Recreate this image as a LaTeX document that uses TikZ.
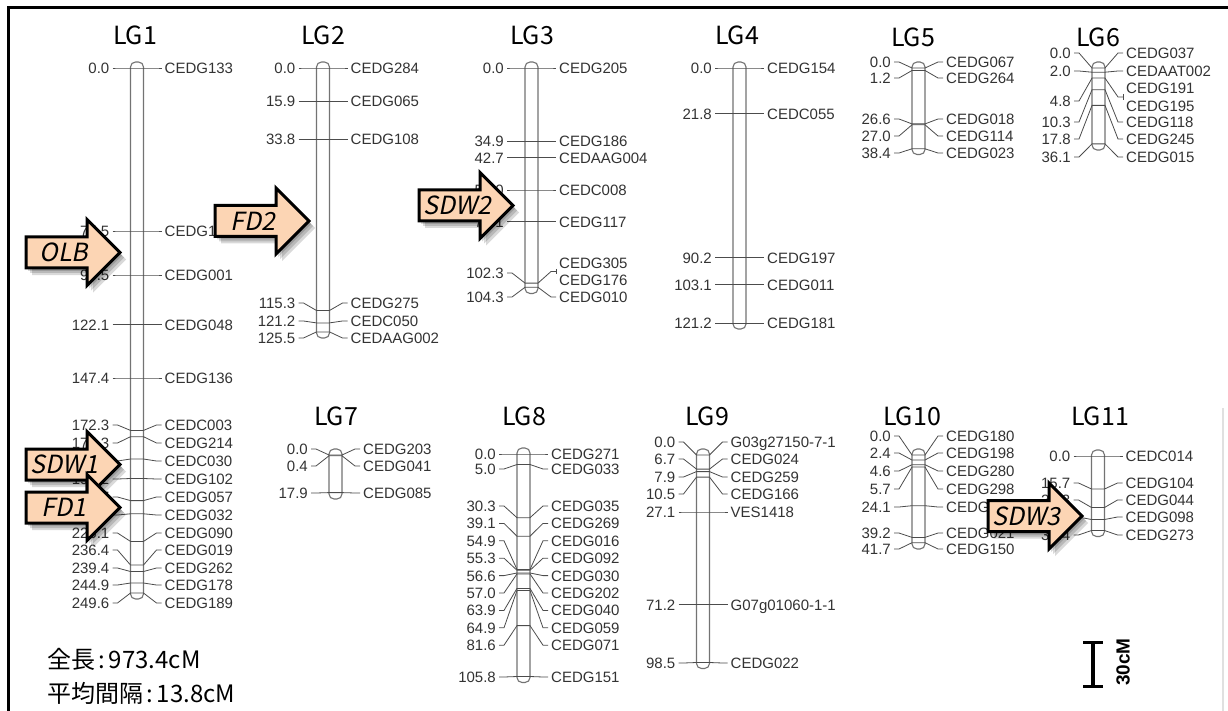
\documentclass[tikz,border=0pt]{standalone}
\usepackage{fontspec}
\setmainfont{Liberation Sans}
\newfontfamily\jp{Noto Sans CJK JP}
\newfontfamily\jpit[FakeSlant=0.2]{Noto Sans CJK JP}
\definecolor{peach}{HTML}{FCD5B4}
\definecolor{txtc}{gray}{0.2}
\definecolor{lnc}{gray}{0.3}
\definecolor{barc}{gray}{0.45}
\tikzset{
 barbox/.style={draw=barc, line width=1.1pt, fill=white, rounded corners=5pt},
 conn/.style={draw=lnc, line width=0.8pt},
 lbl/.style={inner sep=0pt, text=txtc, text height=10.8pt, text depth=0pt, font=\fontsize{15}{15}\selectfont},
 ttl/.style={inner sep=0pt, text height=18.3pt, text depth=0pt, font=\jp\fontsize{25}{25}\selectfont},
 arrtxt/.style={inner sep=0pt, text height=18.3pt, text depth=0pt, font=\jpit\fontsize{25}{25}\selectfont},
 arrbody/.style={draw=black, line width=3pt, fill=peach, line join=miter},
 arrshadow/.style={fill=black, opacity=0.15},
 note/.style={inner sep=0pt, anchor=west, font=\jp\fontsize{24}{24}\selectfont},
}
\newcommand\mk[7]{%
 \node[lbl,anchor=east] (#1l) at (#2-27.5,#4) {#6};
 \node[lbl,anchor=west] (#1r) at (#2+27.5,#5) {#7};
 \draw[conn] ([xshift=3pt]#1l.east) -- ++(5pt,0) -- (#2-6.5,#3) -- (#2+6.5,#3) -- ([xshift=-8pt]#1r.west) -- ([xshift=-3pt]#1r.west);
}
\newcommand\chr[3]{\draw[barbox] (#1-6.5,#2) rectangle (#1+6.5,#3);}
\newcommand\arrowshape[3]{(#1,#2-15.5+#3) -- (#1+61,#2-15.5+#3) -- (#1+61,#2-33+#3) -- (#1+94,#2+#3) -- (#1+61,#2+33+#3) -- (#1+61,#2+15.5+#3) -- (#1,#2+15.5+#3) -- cycle}
\newcommand\barrow[4]{%
 \fill[arrshadow] \arrowshape{#2+2}{#3}{3};
 \fill[arrshadow] \arrowshape{#2+4}{#3}{5};
 \fill[arrshadow] \arrowshape{#2+6}{#3}{7};
 \draw[arrbody] \arrowshape{#2}{#3}{0};
 \node[arrtxt] (#1) at (#2+38,#3) {#4};
}
\begin{document}
\begin{tikzpicture}[x=1pt,y=-1pt]
\useasboundingbox (0,0) rectangle (1228,711);
\fill[white] (0,0) rectangle (1228,711);
\draw[line width=2.5pt] (8.5,711) -- (8.5,7.5) -- (1228,7.5);
\draw[black!12, line width=1.5pt] (1223,408) -- (1223,711);
% titles
\node[ttl] (t1) at (135,35) {LG1};
\node[ttl] (t2) at (323,35) {LG2};
\node[ttl] (t3) at (532,35) {LG3};
\node[ttl] (t4) at (737,35) {LG4};
\node[ttl] (t5) at (913,37) {LG5};
\node[ttl] (t6) at (1098,37) {LG6};
\node[ttl] (t7) at (336,416) {LG7};
\node[ttl] (t8) at (524,416) {LG8};
\node[ttl] (t9) at (707,416) {LG9};
\node[ttl] (t10) at (912,416) {LG10};
\node[ttl] (t11) at (1100,416) {LG11};
% LG1
\chr{137}{62}{599}
\mk{a1}{137}{68}{68}{68}{0.0}{CEDG133}
\mk{a2}{137}{231}{231}{231}{77.5}{CEDG1}
\mk{a3}{137}{275}{275}{275}{98.5}{CEDG001}
\mk{a4}{137}{324.8}{324.8}{324.8}{122.1}{CEDG048}
\mk{a5}{137}{378}{378}{378}{147.4}{CEDG136}
\mk{a6}{137}{430.4}{425}{425}{172.3}{CEDC003}
\mk{a7}{137}{436.7}{443}{443}{175.3}{CEDG214}
\mk{a8}{137}{459}{461}{461}{186.0}{CEDC030}
\mk{a9}{137}{478.5}{479}{479}{195.2}{CEDG102}
\mk{a10}{137}{500.6}{497}{497}{205.7}{CEDG057}
\mk{a11}{137}{513.8}{515}{515}{212.0}{CEDG032}
\mk{a12}{137}{541.4}{533}{533}{225.1}{CEDG090}
\mk{a13}{137}{565}{550}{550}{236.4}{CEDG019}
\mk{a14}{137}{571.5}{568}{568}{239.4}{CEDG262}
\mk{a15}{137}{583}{585}{585}{244.9}{CEDG178}
\mk{a16}{137}{593}{603}{603}{249.6}{CEDG189}
% LG2
\chr{323}{62}{338}
\mk{b1}{323}{68}{68}{68}{0.0}{CEDG284}
\mk{b2}{323}{101.4}{101.4}{101.4}{15.9}{CEDG065}
\mk{b3}{323}{139.1}{139.1}{139.1}{33.8}{CEDG108}
\mk{b4}{323}{310.5}{303}{303}{115.3}{CEDG275}
\mk{b5}{323}{322.9}{321}{321}{121.2}{CEDC050}
\mk{b6}{323}{331.9}{338}{338}{125.5}{CEDAAG002}
% LG3
\chr{531.5}{62}{293.5}
\mk{c1}{531.5}{68}{68}{68}{0.0}{CEDG205}
\mk{c2}{531.5}{141.4}{141.4}{141.4}{34.9}{CEDG186}
\mk{c3}{531.5}{157.8}{157.8}{157.8}{42.7}{CEDAAG004}
\mk{c4}{531.5}{190}{190}{190}{58.0}{CEDC008}
\mk{c5}{531.5}{221.7}{221.7}{221.7}{73.1}{CEDG117}
\mk{c6}{531.5}{283.1}{273}{271.5}{102.3}{}
\mk{c7}{531.5}{287.3}{297}{297}{104.3}{CEDG010}
\node[lbl,anchor=west] (c6a) at (559,263) {CEDG305};
\node[lbl,anchor=west] (c6b) at (559,280) {CEDG176};
\draw[conn] ([xshift=-3pt,yshift=-6pt]c6a.west) -- ([xshift=-3pt,yshift=6pt]c6b.west);
% LG4
\chr{739.5}{62}{329}
\mk{d1}{739.5}{68}{68}{68}{0.0}{CEDG154}
\mk{d2}{739.5}{113.8}{113.8}{113.8}{21.8}{CEDC055}
\mk{d3}{739.5}{257.7}{257.7}{257.7}{90.2}{CEDG197}
\mk{d4}{739.5}{284.8}{284.8}{284.8}{103.1}{CEDG011}
\mk{d5}{739.5}{322.9}{322.9}{322.9}{121.2}{CEDG181}
% LG5
\chr{918.5}{62}{154.5}
\mk{e1}{918.5}{68}{62}{62}{0.0}{CEDG067}
\mk{e2}{918.5}{70.5}{78}{78}{1.2}{CEDG264}
\mk{e3}{918.5}{123.9}{119}{119}{26.6}{CEDG018}
\mk{e4}{918.5}{124.8}{136}{136}{27.0}{CEDG114}
\mk{e5}{918.5}{148.8}{153}{153}{38.4}{CEDG023}
% LG6
\chr{1098.5}{62}{150}
\mk{f1}{1098.5}{68}{53}{53}{0.0}{CEDG037}
\mk{f2}{1098.5}{72.2}{71}{71}{2.0}{CEDAAT002}
\mk{f3}{1098.5}{78.1}{101}{97}{4.8}{}
\node[lbl,anchor=west] (f3a) at (1126,88) {CEDG191};
\node[lbl,anchor=west] (f3b) at (1126,106) {CEDG195};
\draw[conn] ([xshift=-3pt,yshift=-6pt]f3a.west) -- ([xshift=-3pt,yshift=6pt]f3b.west);
\mk{f4}{1098.5}{89.7}{122}{122}{10.3}{CEDG118}
\mk{f5}{1098.5}{105.4}{139}{139}{17.8}{CEDG245}
\mk{f6}{1098.5}{143.9}{157}{157}{36.1}{CEDG015}
% LG7
\chr{335.5}{449}{499}
\mk{g1}{335.5}{455}{449}{449}{0.0}{CEDG203}
\mk{g2}{335.5}{455.8}{466}{466}{0.4}{CEDG041}
\mk{g3}{335.5}{492.6}{493}{493}{17.9}{CEDG085}
% LG8
\chr{523.5}{448}{682.5}
\mk{h1}{523.5}{454}{454}{454}{0.0}{CEDG271}
\mk{h2}{523.5}{464.5}{469}{469}{5.0}{CEDG033}
\mk{h3}{523.5}{517.7}{506}{506}{30.3}{CEDG035}
\mk{h4}{523.5}{536.2}{523.4}{523.4}{39.1}{CEDG269}
\mk{h5}{523.5}{569.5}{540.8}{540.8}{54.9}{CEDG016}
\mk{h6}{523.5}{570.3}{558.2}{558.2}{55.3}{CEDG092}
\mk{h7}{523.5}{573}{575.6}{575.6}{56.6}{CEDG030}
\mk{h8}{523.5}{573.9}{593}{593}{57.0}{CEDG202}
\mk{h9}{523.5}{588.4}{610.4}{610.4}{63.9}{CEDG040}
\mk{h10}{523.5}{590.5}{627.8}{627.8}{64.9}{CEDG059}
\mk{h11}{523.5}{625.6}{645.2}{645.2}{81.6}{CEDG071}
\mk{h12}{523.5}{676.5}{677}{677}{105.8}{CEDG151}
% LG9
\chr{703}{449}{668.5}
\mk{i1}{703}{455}{442}{442}{0.0}{G03g27150-7-1}
\mk{i2}{703}{469.1}{459}{459}{6.7}{CEDG024}
\mk{i3}{703}{471.6}{477}{477}{7.9}{CEDG259}
\mk{i4}{703}{477.1}{494}{494}{10.5}{CEDG166}
\mk{i5}{703}{512}{512}{512}{27.1}{VES1418}
\mk{i6}{703}{604.7}{604.7}{604.7}{71.2}{G07g01060-1-1}
\mk{i7}{703}{662.5}{663}{663}{98.5}{CEDG022}
% LG10
\chr{918.5}{449}{549}
\mk{j1}{918.5}{455}{436}{436}{0.0}{CEDG180}
\mk{j2}{918.5}{460}{453}{453}{2.4}{CEDG198}
\mk{j3}{918.5}{464.7}{471}{471}{4.6}{CEDG280}
\mk{j4}{918.5}{467}{489}{489}{5.7}{CEDG298}
\mk{j5}{918.5}{505.7}{507}{507}{24.1}{CEDG}
\mk{j6}{918.5}{537.4}{533}{533}{39.2}{CEDG021}
\mk{j7}{918.5}{542.7}{549}{549}{41.7}{CEDG150}
% LG11
\chr{1098}{450}{536.5}
\mk{k1}{1098}{456}{456}{456}{0.0}{CEDC014}
\mk{k2}{1098}{489}{483}{483}{15.7}{CEDG104}
\mk{k3}{1098}{507.5}{500}{500}{24.3}{CEDG044}
\mk{k4}{1098}{519.5}{517}{517}{30.1}{CEDG098}
\mk{k5}{1098}{530.5}{535}{535}{35.4}{CEDG273}
% arrows
\barrow{olb}{26}{252.5}{OLB}
\barrow{fdtwo}{215}{221}{FD2}
\barrow{sdwtwo}{419}{205.5}{SDW2}
\barrow{sdwone}{26}{464.5}{SDW1}
\barrow{fdone}{26}{507.5}{FD1}
\barrow{sdwthree}{988}{516}{SDW3}
% notes
\node[note] (n1) at (47,659) {全長\hspace{3pt}:\hspace{4pt}973.4cM};
\node[note] (n2) at (47,693) {平均間隔\hspace{3pt}:\hspace{4pt}13.8cM};
% scale bar
\coordinate (sbt) at (1093,642.5);
\coordinate (sbb) at (1093,686.5);
\draw[line width=3.5pt] (sbt) -- (sbb);
\draw[line width=3.5pt] ([xshift=-10pt]sbt) -- ([xshift=10pt]sbt);
\draw[line width=3.5pt] ([xshift=-10pt]sbb) -- ([xshift=10pt]sbb);
\node[rotate=90, inner sep=0pt, font=\bfseries\fontsize{19}{19}\selectfont] (sbl) at (1123,662) {30cM};
\end{tikzpicture}
\end{document}
